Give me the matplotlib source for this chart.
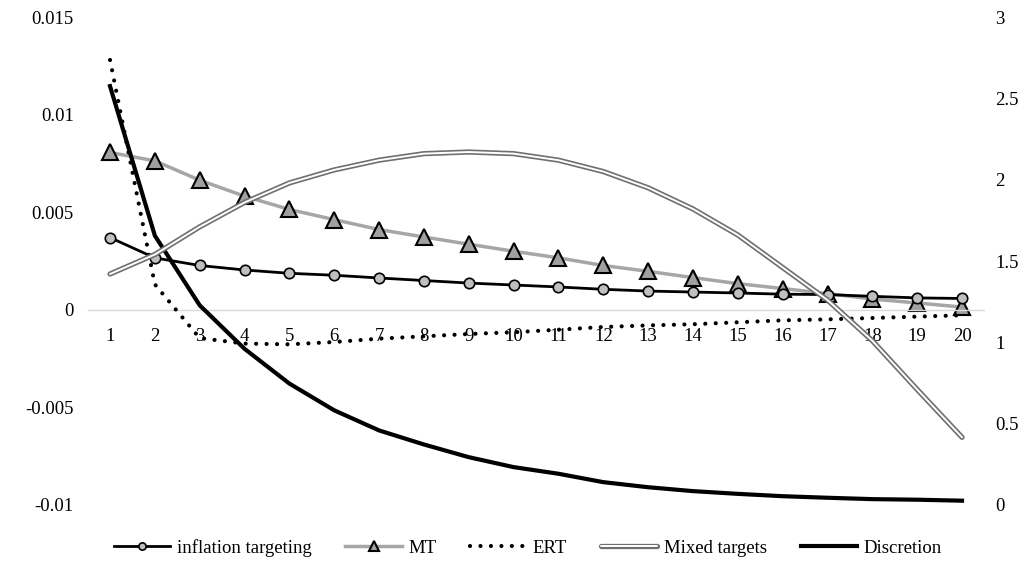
import numpy as np
import matplotlib
matplotlib.use("Agg")
import matplotlib.pyplot as plt
import matplotlib.patheffects as pe

periods = list(range(1, 21))

inflation_targeting = [0.0037, 0.00266, 0.00227, 0.00204, 0.00187, 0.00177, 0.00163, 0.0015,
                       0.00137, 0.00127, 0.00117, 0.00105, 0.00096, 0.00091, 0.00086, 0.0008,
                       0.00078, 0.00069, 0.00061, 0.00058]
mt = [0.00806, 0.00763, 0.00664, 0.00582, 0.00514, 0.00462, 0.00411, 0.00373, 0.00336, 0.003,
      0.00266, 0.00227, 0.00197, 0.00165, 0.00134, 0.00109, 0.00083, 0.00055, 0.00035, 0.00014]
ert = [0.0128, 0.0013, -0.00145, -0.00173, -0.00177, -0.00165, -0.00148, -0.00136, -0.00124,
       -0.00115, -0.00102, -0.00088, -0.0008, -0.00074, -0.00064, -0.00054, -0.00049, -0.00042,
       -0.00035, -0.00028]
discretion = [0.01146, 0.0038, 0.00023, -0.002, -0.00378, -0.00515, -0.00618, -0.0069, -0.00755,
              -0.00806, -0.0084, -0.00883, -0.00909, -0.00929, -0.00943, -0.00955, -0.00963,
              -0.0097, -0.00973, -0.00978]
# secondary axis
mixed_targets = [1.42, 1.54, 1.71, 1.86, 1.98, 2.06, 2.12, 2.16, 2.17, 2.16, 2.12, 2.05, 1.95,
                 1.82, 1.66, 1.46, 1.26, 1.01, 0.71, 0.416]

left_ticks = [-0.01, -0.005, 0, 0.005, 0.01, 0.015]
left_labels = ["-0.01", "-0.005", "0", "0.005", "0.01", "0.015"]
right_ticks = [0, 0.5, 1, 1.5, 2, 2.5, 3]
right_labels = ["0", "0.5", "1", "1.5", "2", "2.5", "3"]

plt.rcParams["font.family"] = ["Liberation Serif", "DejaVu Serif"]
fs = 13.5

fig = plt.figure(figsize=(10.33, 5.73), dpi=100)
ax = fig.add_axes([0.0848, 0.1187, 0.953 - 0.0848, 0.9703 - 0.1187])
ax2 = ax.twinx()

l_it, = ax.plot(periods, inflation_targeting, color="black", lw=2, marker="o", ms=7.5,
                mfc="#bfbfbf", mec="black", mew=1.2, label="inflation targeting", zorder=3)
l_mt, = ax.plot(periods, mt, color="#a6a6a6", lw=2.5, marker="^", ms=11,
                mfc="#a0a0a0", mec="black", mew=1.5, label="MT", zorder=2)
l_ert, = ax.plot(periods, ert, color="black", lw=3, linestyle=(0, (0.01, 2.5)),
                 dash_capstyle="round", label="ERT", zorder=4)
l_dis, = ax.plot(periods, discretion, color="black", lw=3, label="Discretion", zorder=5)

l_mix, = ax2.plot(periods, mixed_targets, color="white", lw=1.4, solid_capstyle="round",
                  path_effects=[pe.Stroke(linewidth=3.8, foreground="#6f6f6f"), pe.Normal()])

ax.set_xlim(0.5, 20.5)
ax.set_ylim(-0.01, 0.015)
ax2.set_ylim(0, 3)

ax.spines["bottom"].set_position(("data", 0))
ax.spines["bottom"].set_color("#d9d9d9")
ax.spines["bottom"].set_linewidth(1)
for s in ["top", "left", "right"]:
    ax.spines[s].set_visible(False)
for s in ax2.spines.values():
    s.set_visible(False)

ax.set_yticks(left_ticks)
ax.set_yticklabels(left_labels)
ax2.set_yticks(right_ticks)
ax2.set_yticklabels(right_labels)
ax.set_xticks(periods)
ax.set_xticklabels([str(p) for p in periods])

ax.tick_params(axis="x", length=0, pad=13, labelsize=fs)
ax.tick_params(axis="y", length=0, pad=10, labelsize=fs)
ax2.tick_params(axis="y", length=0, pad=8, labelsize=fs)

fig.legend([l_it, l_mt, l_ert, l_mix, l_dis],
           ["inflation targeting", "MT", "ERT", "Mixed targets", "Discretion"],
           loc="center", bbox_to_anchor=(0.511, 0.044), ncol=5, frameon=False,
           fontsize=fs, handlelength=3, handletextpad=0.35, columnspacing=1.8,
           markerscale=0.7)

fig.savefig("out.png", dpi=100)
